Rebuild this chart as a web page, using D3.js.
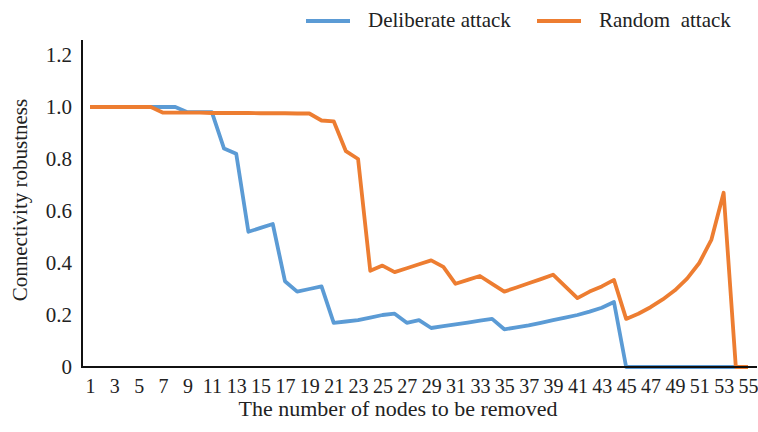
<!DOCTYPE html>
<html>
<head>
<meta charset="utf-8">
<script src="https://cdn.jsdelivr.net/npm/d3@7"></script>
</head>
<body style="margin:0; background:#fff">
<svg width="758" height="432"></svg>
<script>
var svg = d3.select('svg');
var width = +svg.attr('width');
var height = +svg.attr('height');
var serif = '"Liberation Serif", monospace';

// nodes removed: 1..55
var nodes = d3.range(1, 56);

var deliberate = [1, 1, 1, 1, 1, 1, 1, 1, 0.98, 0.98,
    0.98, 0.84, 0.82, 0.52, 0.535, 0.55, 0.33, 0.29, 0.30, 0.31,
    0.17, 0.175, 0.18, 0.19, 0.2, 0.205, 0.17, 0.18, 0.15, 0.157,
    0.164, 0.171, 0.178, 0.185, 0.145, 0.152, 0.16, 0.17, 0.18, 0.19,
    0.2, 0.213, 0.228, 0.25, 0, 0, 0, 0, 0, 0,
    0, 0, 0, 0, 0];

var random = [1, 1, 1, 1, 1, 1, 0.978, 0.978, 0.978, 0.978,
    0.977, 0.977, 0.977, 0.977, 0.976, 0.976, 0.976, 0.975, 0.975, 0.948,
    0.945, 0.83, 0.80, 0.37, 0.39, 0.365, 0.38, 0.395, 0.41, 0.385,
    0.32, 0.335, 0.35, 0.32, 0.29, 0.306, 0.322, 0.338, 0.355, 0.31,
    0.265, 0.29, 0.31, 0.335, 0.185, 0.205, 0.23, 0.26, 0.295, 0.34,
    0.40, 0.49, 0.67, 0, 0];

var series = [
    {name: 'Deliberate attack', values: deliberate, color: '#5b9bd5'},
    {name: 'Random  attack', values: random, color: '#ed7d31'}
];

var yTicks = [0, 0.2, 0.4, 0.6, 0.8, 1.0, 1.2];
var xTicks = nodes.filter(n => n % 2 === 1);

var x = d3.scaleLinear().domain([1, 55]).range([90, 748]);
var y = d3.scaleLinear().domain([0, 1.2]).range([367, 55]);

// Axes (labels only, lines drawn below)
var yAxis = svg.append('g').attr('transform', 'translate(82,0)')
    .call(d3.axisLeft(y).tickValues(yTicks).tickSize(0).tickPadding(10)
        .tickFormat(d => d === 0 ? '0' : d3.format('.1f')(d)));
yAxis.select('.domain').remove();
yAxis.selectAll('text').style('font-family', serif).style('font-size', '21px').style('fill', '#222');

var xAxis = svg.append('g').attr('transform', 'translate(0,367)')
    .call(d3.axisBottom(x).tickValues(xTicks).tickSize(0).tickPadding(12)
        .tickFormat(d3.format('d')));
xAxis.select('.domain').remove();
xAxis.selectAll('text').style('font-family', serif).style('font-size', '20px').style('fill', '#222');

// Lines
var line = d3.line()
    .x((d, i) => x(nodes[i]))
    .y(d => y(d));

svg.append('g').selectAll('path')
    .data(series)
    .enter().append('path')
    .attr('d', d => line(d.values))
    .attr('fill', 'none')
    .attr('stroke', d => d.color)
    .attr('stroke-width', 3.8)
    .attr('stroke-linejoin', 'round');

// axis lines
svg.append('line').attr('x1', 82).attr('x2', 82).attr('y1', 40).attr('y2', 368)
    .attr('stroke', '#111').attr('stroke-width', 2);
svg.append('line').attr('x1', 81).attr('x2', 757).attr('y1', 367).attr('y2', 367)
    .attr('stroke', '#111').attr('stroke-width', 2);

// Axis titles
svg.append('text').attr('x', 398).attr('y', 416).attr('text-anchor', 'middle')
    .style('font-family', serif).style('font-size', '22px').style('fill', '#222')
    .text('The number of nodes to be removed');
svg.append('text').attr('transform', 'translate(27,200) rotate(-90)')
    .attr('text-anchor', 'middle')
    .style('font-family', serif).style('font-size', '21px').style('fill', '#222')
    .text('Connectivity robustness');

// Legend
var legendX = [306, 537];
var legend = svg.append('g').selectAll('g')
    .data(series)
    .enter().append('g')
    .attr('transform', (d, i) => 'translate(' + legendX[i] + ',21)');
legend.append('line').attr('x1', 0).attr('x2', 44).attr('y1', 0).attr('y2', 0)
    .attr('stroke', d => d.color).attr('stroke-width', 4);
legend.append('text').attr('x', 62).attr('y', 6)
    .style('font-family', serif).style('font-size', '21px').style('fill', '#222')
    .style('white-space', 'pre').text(d => d.name);
</script>
</body>
</html>
